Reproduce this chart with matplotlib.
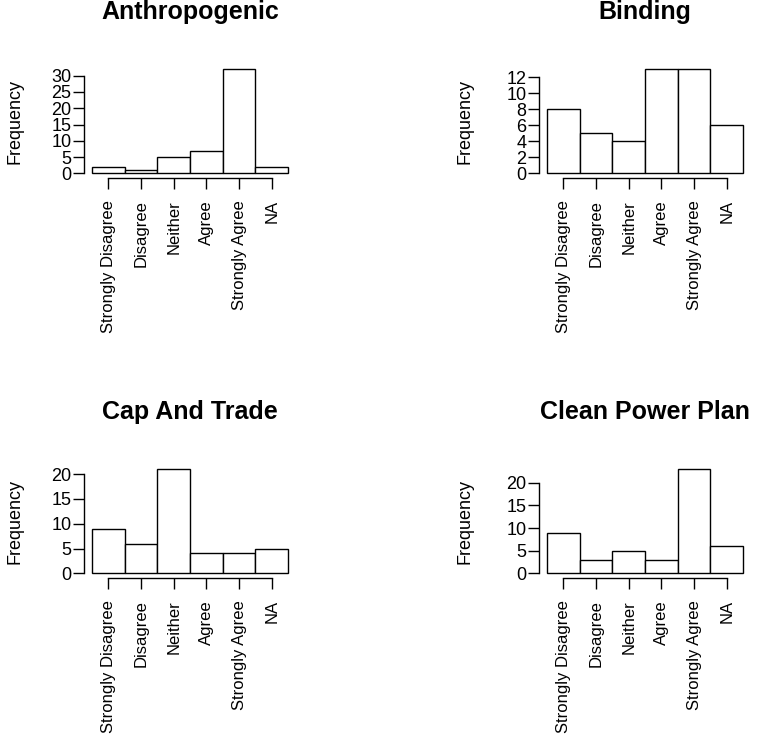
import numpy as np
import matplotlib
matplotlib.use("Agg")
import matplotlib.pyplot as plt

# survey answers, one histogram per question
categories = ["Strongly Disagree", "Disagree", "Neither", "Agree",
              "Strongly Agree", "NA"]
titles = ["Anthropogenic", "Binding", "Cap And Trade", "Clean Power Plan"]
anthropogenic = [2, 1, 5, 7, 32, 2]
binding = [8, 5, 4, 13, 13, 6]
cap_and_trade = [9, 6, 21, 4, 4, 5]
clean_power_plan = [9, 3, 5, 3, 23, 6]
y_steps = [5, 2, 5, 5]

plt.rcParams['font.family'] = ['Liberation Sans', 'DejaVu Sans']

W, H = 760, 746
fig = plt.figure(figsize=(W / 100, H / 100), dpi=100)

# pixel boxes of the plot regions (left, top, width, height)
col_left = [84, 539]
row_top = [65, 465]
box_w, box_h = 212, 112.5
ylab_x = [15, 465]


def draw_panel(ax, counts, title, step):
    counts = np.asarray(counts)
    x = np.arange(1, len(counts) + 1)
    ax.bar(x, counts, width=1.0, color="white", edgecolor="black",
           linewidth=1.0)

    n = len(counts)
    ymax = counts.max()
    ax.set_xlim(0.5 - 0.04 * n, n + 0.5 + 0.04 * n)
    ax.set_ylim(-0.04 * ymax, 1.04 * ymax)

    for side in ["top", "right"]:
        ax.spines[side].set_visible(False)
    for side in ["left", "bottom"]:
        ax.spines[side].set_linewidth(1.0)

    top_tick = (ymax // step) * step
    yt = np.arange(0, top_tick + step / 2, step)
    ax.set_yticks(yt)
    ax.set_yticklabels([str(int(v)) for v in yt])
    ax.spines["left"].set_bounds(0, top_tick)

    ax.set_xticks(x)
    ax.set_xticklabels(categories, rotation=90)
    ax.spines["bottom"].set_bounds(1, n)

    ax.tick_params(axis="both", direction="out", length=7.6, width=1.0,
                   colors="black")
    ax.tick_params(axis="y", pad=1.5, labelsize=13)
    ax.tick_params(axis="x", pad=8.6, labelsize=12)
    ax.patch.set_visible(False)

    ax.set_title(title, fontsize=18, fontweight="bold", pad=33)


series = [anthropogenic, binding, cap_and_trade, clean_power_plan]
for i, counts in enumerate(series):
    r, c = divmod(i, 2)
    left = col_left[c] / W
    bottom = 1 - (row_top[r] + box_h) / H
    ax = fig.add_axes([left, bottom, box_w / W, box_h / H])
    draw_panel(ax, counts, titles[i], y_steps[i])
    fig.text(ylab_x[c] / W, 1 - (row_top[r] + box_h / 2) / H, "Frequency",
             rotation=90, ha="center", va="center", fontsize=13)

fig.savefig("out.png", dpi=100)
